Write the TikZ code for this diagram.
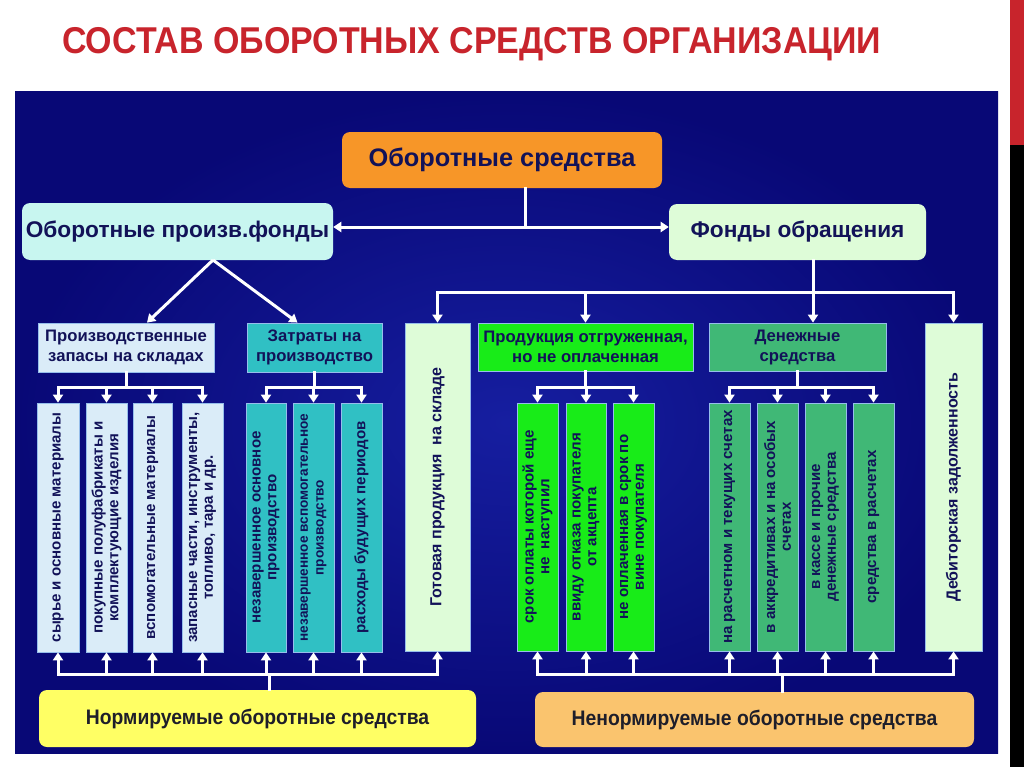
\documentclass[tikz,border=0pt]{standalone}
\usepackage{fontspec}
\usepackage{graphicx}
\setmainfont{Liberation Sans}
\usetikzlibrary{arrows.meta,calc}
\definecolor{navy}{RGB}{18,18,88}
\definecolor{bgA}{RGB}{8,8,118}
\definecolor{bgB}{RGB}{22,30,160}
\definecolor{ttl}{RGB}{200,36,44}
\definecolor{orng}{RGB}{247,150,40}
\definecolor{cyanL}{RGB}{200,246,240}
\definecolor{greenL}{RGB}{222,252,216}
\definecolor{blueL}{RGB}{218,236,248}
\definecolor{tealB}{RGB}{48,192,196}
\definecolor{greenB}{RGB}{24,236,24}
\definecolor{greenM}{RGB}{64,184,118}
\definecolor{yel}{RGB}{255,255,100}
\definecolor{orgL}{RGB}{250,196,110}
\definecolor{edgeC}{RGB}{150,190,235}
\definecolor{darkT}{RGB}{30,30,42}
\tikzset{
  arr/.style={draw=white, line width=2.25pt, -{Triangle[width=7.5pt,length=6pt]}},
  ln/.style={draw=white, line width=2.25pt, line cap=rect},
  rbox/.style={rounded corners=6pt, text=navy, font=\bfseries\fontsize{17}{20}\selectfont, inner sep=0pt},
  sbox/.style={draw=edgeC, line width=0.6pt, text=navy, font=\bfseries\fontsize{12.5}{15}\selectfont, align=center, inner sep=0pt},
  vbx/.style={sbox, rotate=90, font=\bfseries\fontsize{11.3}{11.8}\selectfont},
  botbox/.style={rounded corners=6pt, text=darkT, font=\bfseries\fontsize{15.75}{18}\selectfont, inner sep=0pt}
}
\newcommand{\boxH}[7]{\node[#1, minimum width={(#5-#3)*0.75pt}, minimum height={(#6-#4)*0.75pt}] (#2) at ({(#3+#5)/2},{(#4+#6)/2}) {#7};}
\newcommand{\boxV}[7]{\node[#1, minimum width={(#6-#4)*0.75pt}, minimum height={(#5-#3)*0.75pt}] (#2) at ({(#3+#5)/2},{(#4+#6)/2}) {#7};}
\begin{document}
\begin{tikzpicture}[x=0.75pt,y=-0.75pt]
\useasboundingbox (0,0) rectangle (1024,767);
\fill[white] (0,0) rectangle (1024,767);
\shade[inner color=bgB, outer color=bgA] (15,92) rectangle (998,753);
\fill[ttl] (1010,0) rectangle (1024,145);
\fill[black] (1010,145) rectangle (1024,767);
\node[font=\bfseries\fontsize{28}{32}\selectfont, text=ttl, anchor=west, inner sep=0pt] (title) at (62,44) {\scalebox{0.91}[1]{СОСТАВ ОБОРОТНЫХ СРЕДСТВ ОРГАНИЗАЦИИ}};

% top level
\boxH{rbox, fill=orng, font=\bfseries\fontsize{19}{22}\selectfont}{os}{342}{132}{662}{188}{Оборотные средства}
\boxH{rbox, fill=cyanL}{lf}{22}{203}{333}{260}{Оборотные произв.фонды}
\boxH{rbox, fill=greenL}{fo}{669}{204}{926}{260}{Фонды обращения}

% second level
\boxH{sbox, fill=blueL}{pz}{38}{323}{214}{372}{Производственные\\запасы на складах}
\boxH{sbox, fill=tealB}{zt}{247}{323}{382}{372}{Затраты на\\производство}
\boxH{sbox, fill=greenB}{po}{478}{323}{693}{371}{Продукция отгруженная,\\но не оплаченная}
\boxH{sbox, fill=greenM}{dn}{709}{323}{886}{371}{Денежные\\средства}
\boxV{vbx, fill=greenL, font=\bfseries\fontsize{12}{14}\selectfont}{gp}{405}{323}{470}{651}{Готовая продукция\ \ на складе}
\boxV{vbx, fill=greenL, font=\bfseries\fontsize{12}{14}\selectfont}{db}{925}{323}{982}{651}{Дебиторская задолженность}

% third level
\boxV{vbx, fill=blueL}{a1}{37}{403}{79}{652}{сырье и основные материалы}
\boxV{vbx, fill=blueL}{a2}{86}{403}{127}{652}{покупные полуфабрикаты и\\комплектующие изделия}
\boxV{vbx, fill=blueL}{a3}{133}{403}{172}{652}{вспомогательные материалы}
\boxV{vbx, fill=blueL}{a4}{182}{403}{223}{652}{запасные части, инструменты,\\топливо, тара и др.}
\boxV{vbx, fill=tealB}{t1}{246}{403}{286}{652}{незавершенное основное\\производство}
\boxV{vbx, fill=tealB, font=\bfseries\fontsize{10.2}{11.8}\selectfont}{t2}{293}{403}{334}{652}{незавершенное вспомогательное\\производство}
\boxV{vbx, fill=tealB}{t3}{341}{403}{382}{652}{расходы будущих периодов}
\boxV{vbx, fill=greenB}{g1}{517}{403}{558}{651}{срок оплаты которой еще\\не\ \ наступил}
\boxV{vbx, fill=greenB}{g2}{566}{403}{606}{651}{ввиду отказа покупателя\\от акцепта}
\boxV{vbx, fill=greenB}{g3}{613}{403}{654}{651}{не оплаченная в срок по\\вине покупателя}
\boxV{vbx, fill=greenM}{d1}{709}{403}{750}{651}{на расчетном и текущих счетах}
\boxV{vbx, fill=greenM}{d2}{757}{403}{798}{651}{в аккредитивах и на особых\\счетах}
\boxV{vbx, fill=greenM}{d3}{805}{403}{846}{651}{в кассе и прочие\\денежные средства}
\boxV{vbx, fill=greenM}{d4}{853}{403}{894}{651}{средства в расчетах}

% bottom
\boxH{botbox, fill=yel}{nb}{39}{690}{476}{747}{\scalebox{0.92}[1]{Нормируемые оборотные средства}}
\boxH{botbox, fill=orgL}{nn}{535}{692}{974}{747}{\scalebox{0.92}[1]{Ненормируемые оборотные средства}}

% connectors: top
\coordinate (osj) at (525,227);
\draw[ln] (osj |- os.south) -- (osj);
\draw[arr] (osj) -- (osj -| lf.east);
\draw[arr] (osj) -- (osj -| fo.west);
\coordinate (lfo) at (213,260);
\draw[arr] (lfo) -- ($(pz.north)+(21,0)$);
\draw[arr] (lfo) -- ($(zt.north)+(-17,0)$);

% bus under pz
\path (pz.south) ++(0,15) coordinate (pzj);
\draw[ln] (pz.south) -- (pzj);
\draw[ln] (pzj -| a1.center) -- (pzj -| a4.center);
\foreach \b in {a1,a2,a3,a4} \draw[arr] (pzj -| \b.center) -- (\b.east);
% bus under zt
\path (zt.south) ++(0,15) coordinate (ztj);
\draw[ln] (zt.south) -- (ztj);
\draw[ln] (ztj -| t1.center) -- (ztj -| t3.center);
\foreach \b in {t1,t2,t3} \draw[arr] (ztj -| \b.center) -- (\b.east);

% bus under fo
\coordinate (gj) at (813,292);
\draw[ln] (gj |- fo.south) -- (gj);
\draw[arr] (gj) -- (gj |- dn.north);
\draw[ln] (gj -| gp.center) -- (gj -| db.center);
\draw[arr] (gj -| gp.center) -- (gp.east);
\draw[arr] (gj -| po.north) -- (po.north);
\draw[arr] (gj -| db.center) -- (db.east);

% bus under po
\path (po.south) ++(0,16) coordinate (poj);
\draw[ln] (po.south) -- (poj);
\draw[ln] (poj -| g1.center) -- (poj -| g3.center);
\foreach \b in {g1,g2,g3} \draw[arr] (poj -| \b.center) -- (\b.east);
% bus under dn
\path (dn.south) ++(0,16) coordinate (dnj);
\draw[ln] (dn.south) -- (dnj);
\draw[ln] (dnj -| d1.center) -- (dnj -| d4.center);
\foreach \b in {d1,d2,d3,d4} \draw[arr] (dnj -| \b.center) -- (\b.east);

% bottom buses
\coordinate (nbj) at (269,674);
\draw[ln] (nbj) -- (nbj |- nb.north);
\draw[ln] (nbj -| a1.center) -- (nbj -| gp.center);
\foreach \b in {a1,a2,a3,a4,t1,t2,t3,gp} \draw[arr] (nbj -| \b.center) -- (\b.west);
\coordinate (nnj) at (782,674);
\draw[ln] (nnj) -- (nnj |- nn.north);
\draw[ln] (nnj -| g1.center) -- (nnj -| db.center);
\foreach \b in {g1,g2,g3,d1,d2,d3,d4,db} \draw[arr] (nnj -| \b.center) -- (\b.west);
\end{tikzpicture}
\end{document}
